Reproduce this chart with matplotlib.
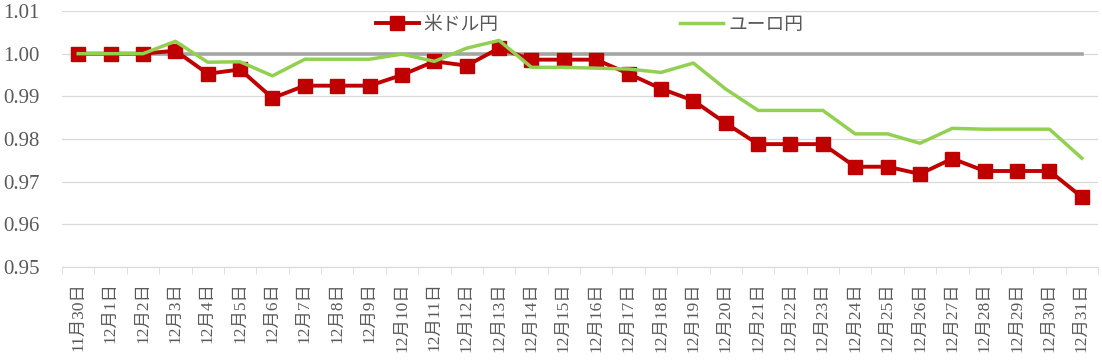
import matplotlib
matplotlib.use('Agg')
import matplotlib.pyplot as plt
import numpy as np

plt.rcParams['font.family'] = ['Liberation Serif', 'Noto Sans CJK JP']

dates = ['11月30日'] + ['12月%d日' % d for d in range(1, 32)]

usd_jpy = [1.000, 1.000, 1.000, 1.0007, 0.9953, 0.9963, 0.9896, 0.9925,
           0.9925, 0.9925, 0.9950, 0.9982, 0.9972, 1.0013, 0.9986, 0.9986,
           0.9986, 0.9953, 0.9918, 0.9890, 0.9837, 0.9788, 0.9788, 0.9788,
           0.9735, 0.9735, 0.9718, 0.9754, 0.9725, 0.9725, 0.9725, 0.9664]

eur_jpy = [1.000, 1.000, 1.000, 1.0029, 0.9980, 0.9981, 0.9948, 0.9987,
           0.9987, 0.9987, 0.9999, 0.9982, 1.0013, 1.0031, 0.9968, 0.9968,
           0.9966, 0.9964, 0.9956, 0.9978, 0.9917, 0.9867, 0.9867, 0.9867,
           0.9812, 0.9812, 0.9790, 0.9825, 0.9823, 0.9823, 0.9823, 0.9755]

base = [1.0] * len(dates)

yticks = [0.95, 0.96, 0.97, 0.98, 0.99, 1.00, 1.01]

fig = plt.figure(figsize=(11.02, 3.61), dpi=100)
ax = fig.add_axes([0.0563, 0.2604, 0.9401, 0.7091])

x = np.arange(len(dates))
ax.plot(x, base, color='#A5A5A5', lw=2.6, zorder=2, label='_nolegend_')
ax.plot(x, usd_jpy, color='#C00000', lw=2.8, marker='s', markersize=9.5,
        zorder=3, label='米ドル円')
ax.plot(x, eur_jpy, color='#92D050', lw=2.5, zorder=4, label='ユーロ円')

ax.set_xlim(-0.5, len(dates) - 0.5)
ax.set_ylim(0.95, 1.01)
ax.set_yticks(yticks)
ax.set_yticklabels(['%.2f' % v for v in yticks])
ax.set_xticks(x)
ax.set_xticklabels(dates, rotation=90, family=['Liberation Serif', 'Noto Sans CJK JP'])
ax.set_xticks(np.arange(-0.5, len(dates), 1.0), minor=True)

ax.grid(axis='y', color='#D9D9D9', lw=0.9)
ax.set_axisbelow(True)
for s in ['top', 'right', 'left']:
    ax.spines[s].set_visible(False)
ax.spines['bottom'].set_color('#D9D9D9')

ax.tick_params(axis='x', which='major', length=0, pad=11, labelsize=12.5,
               labelcolor='#595959')
ax.tick_params(axis='x', which='minor', length=5, color='#D9D9D9')
ax.tick_params(axis='y', length=0, pad=16, labelsize=15, labelcolor='#595959')

leg = ax.legend(loc='center', bbox_to_anchor=(0.509, 0.945), ncol=2,
                frameon=False, fontsize=13.5, handlelength=2.3,
                columnspacing=9.7, handletextpad=0.25, borderaxespad=0)
for t in leg.get_texts():
    t.set_color('#595959')

fig.savefig('out.png', dpi=100)
